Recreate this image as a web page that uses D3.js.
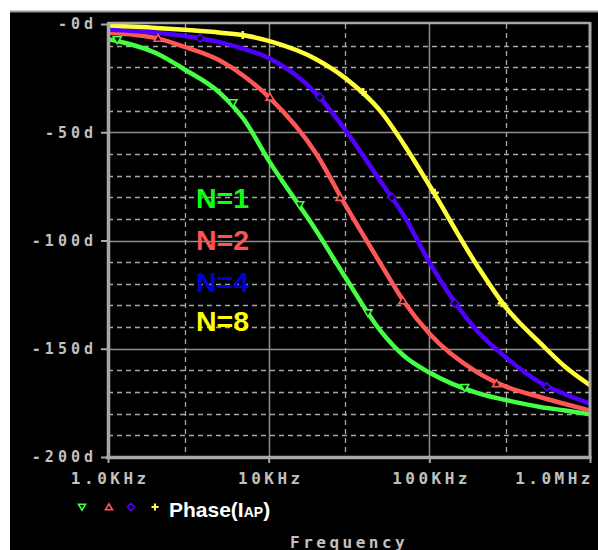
<!DOCTYPE html>
<html>
<head>
<meta charset="utf-8">
<script src="https://cdn.jsdelivr.net/npm/d3@7"></script>
<style>
  body { margin: 0; background: #fff; }
</style>
</head>
<body>
<script>
// values (phase in degrees)
var freqs   = [1e3, 2e3, 3e3, 5e3, 7e3, 1e4, 2e4, 3e4, 5e4, 7e4, 1e5, 2e5, 3e5, 5e5, 7e5, 1e6];
var phaseN1 = [-7, -13.5, -21, -32, -44, -63, -96, -117, -142, -153.5, -161, -170.5, -173.7, -177, -178.5, -180.3];
var phaseN2 = [-4, -6.5, -10.6, -17, -24, -33.7, -60.5, -83.6, -111, -128.5, -143, -161, -167.5, -172.5, -175.5, -178.5];
var phaseN4 = [-2.5, -4, -5.5, -8.5, -11.5, -15.7, -32.5, -49, -73, -89, -110, -142, -154, -166, -171, -175.3];
var phaseN8 = [-0.7, -1.8, -2.7, -4, -5.2, -7.8, -16.5, -25, -40.5, -56, -74.5, -112, -131, -148, -158.3, -166.8];

// marker positions on each trace
var markN1 = [[1.14e3, -7.4], [6.0e3, -36.5], [15.6e3, -83.6], [41.5e3, -133.5], [166e3, -168]];
var markN2 = [[2.05e3, -6.5], [10.2e3, -33.7], [27.8e3, -80], [68.4e3, -127.7], [262e3, -166]];
var markN4 = [[3.74e3, -6.5], [20.8e3, -33.7], [58.6e3, -80], [144e3, -129], [539e3, -167.6]];
var markN8 = [[6.9e3, -5.1], [38.6e3, -31.4], [108e3, -78], [282e3, -129]];

var seriesNames = ["N=1", "N=2", "N=4", "N=8"];
var yTickValues = [0, -50, -100, -150, -200];
var yTickLabels = ["-0d", "-50d", "-100d", "-150d", "-200d"];
var xTickValues = [1e3, 1e4, 1e5, 1e6];
var xTickLabels = ["1.0KHz", "10KHz", "100KHz", "1.0MHz"];

var W = 598, H = 550;
var pLeft = 108, pRight = 590, pTop = 24, pBottom = 457;
var lineColors  = ["#44ff44", "#ff5656", "#5000ff", "#ffff3c"];
var labelColors = ["#11ff11", "#ff5252", "#0000d8", "#ffff00"];
var symbols = ["down", "up", "diamond", "plus"];
var gray = "#c0c0c0";

var svg = d3.select("body").append("svg")
    .attr("width", W)
    .attr("height", H);

svg.append("rect")
    .attr("x", 10).attr("y", 11)
    .attr("width", W - 10).attr("height", H - 11)
    .attr("fill", "#000");
svg.append("line")
    .attr("x1", 10).attr("x2", W).attr("y1", 11.5).attr("y2", 11.5)
    .attr("stroke", "#9a9a9a").attr("stroke-width", 2);

var x = d3.scaleLog().domain([1e3, 1e6]).range([pLeft, pRight]);
var y = d3.scaleLinear().domain([0, -200]).range([pTop, pBottom]);

// grid
var g = svg.append("g");
d3.range(-10, -200, -10).forEach((v)=>{
    var solid = v % 50 === 0;
    g.append("line")
        .attr("x1", pLeft).attr("x2", pRight)
        .attr("y1", Math.round(y(v)) + 0.5).attr("y2", Math.round(y(v)) + 0.5)
        .attr("stroke", solid ? "#8e8e8e" : "#a8a8a8")
        .attr("stroke-width", solid ? 1.5 : 1.3)
        .attr("stroke-dasharray", solid ? null : "5,4");
});
[3e3, 1e4, 3e4, 1e5, 3e5].forEach((f)=>{
    var solid = (f === 1e4 || f === 1e5);
    g.append("line")
        .attr("x1", Math.round(x(f)) + 0.5).attr("x2", Math.round(x(f)) + 0.5)
        .attr("y1", pTop).attr("y2", pBottom)
        .attr("stroke", solid ? "#8e8e8e" : "#a8a8a8")
        .attr("stroke-width", solid ? 1.5 : 1.3)
        .attr("stroke-dasharray", solid ? null : "5,4");
});

// axes
var leftAxis = d3.axisLeft(y)
    .tickValues(yTickValues)
    .tickFormat((d, i) => yTickLabels[i])
    .tickSize(7)
    .tickPadding(8);
var ya = svg.append("g")
    .attr("transform", "translate(" + pLeft + ",0)")
    .call(leftAxis);

var bottomAxis = d3.axisBottom(x)
    .tickValues(xTickValues)
    .tickFormat((d, i) => xTickLabels[i])
    .tickSize(6)
    .tickPadding(10);
var xa = svg.append("g")
    .attr("transform", "translate(0," + pBottom + ")")
    .call(bottomAxis);

[ya, xa].forEach((a)=>{
    a.select(".domain").remove();
    a.selectAll(".tick line").attr("stroke", "#a8a8a8").attr("stroke-width", 2);
    a.selectAll(".tick text")
        .attr("fill", gray)
        .style("font-family", "'DejaVu Sans Mono', monospace")
        .style("font-weight", "bold");
});
ya.selectAll(".tick text")
    .style("font-size", "15px")
    .style("letter-spacing", "4px")
    .attr("dx", "4px");
xa.selectAll(".tick text")
    .style("font-size", "16px")
    .style("letter-spacing", "3.5px")
    .attr("dx", "1.75px");
xa.selectAll(".tick text")
    .filter((d) => d === 1e6)
    .attr("text-anchor", "end")
    .attr("dx", "3.5px");

// traces
svg.append("clipPath").attr("id", "plotclip")
    .append("rect")
    .attr("x", pLeft).attr("y", pTop - 2)
    .attr("width", pRight - pLeft).attr("height", pBottom - pTop + 2);

var line = d3.line()
    .x((d) => x(d[0]))
    .y((d) => y(d[1]))
    .curve(d3.curveMonotoneX);

var allPhases = [phaseN1, phaseN2, phaseN4, phaseN8];
var allMarks = [markN1, markN2, markN4, markN8];
var traces = svg.append("g").attr("clip-path", "url(#plotclip)");

allPhases.forEach((ph, i)=>{
    var pts = freqs.map((f, j) => [f, ph[j]]);
    traces.append("path")
        .attr("d", line(pts))
        .attr("fill", "none")
        .attr("stroke", lineColors[i])
        .attr("stroke-width", 4.5)
        .attr("stroke-linejoin", "round");
});

function markerPath(type, s) {
    if (type === "down") return "M" + (-s) + "," + (-s * 0.8) + "L" + s + "," + (-s * 0.8) + "L0," + (s * 0.9) + "Z";
    if (type === "up") return "M" + (-s) + "," + (s * 0.8) + "L" + s + "," + (s * 0.8) + "L0," + (-s * 0.9) + "Z";
    if (type === "diamond") return "M0," + (-s) + "L" + s + ",0L0," + s + "L" + (-s) + ",0Z";
    return "M" + (-s) + ",0L" + s + ",0M0," + (-s) + "L0," + s;
}

allMarks.forEach((m, i)=>{
    traces.selectAll(".mk" + i)
        .data(m)
        .enter()
        .append("path")
        .attr("class", "mk" + i)
        .attr("transform", (d) => "translate(" + x(d[0]) + "," + y(d[1]) + ")")
        .attr("d", markerPath(symbols[i], 4))
        .attr("fill", symbols[i] === "plus" ? "none" : "#000")
        .attr("stroke", lineColors[i])
        .attr("stroke-width", symbols[i] === "plus" ? 2.5 : 1.6);
});

// plot frame
svg.append("line").attr("x1", pLeft).attr("x2", pRight).attr("y1", pTop - 1).attr("y2", pTop - 1)
    .attr("stroke", "#a8a8a8").attr("stroke-width", 2.5);
svg.append("line").attr("x1", pRight).attr("x2", pRight).attr("y1", pTop - 2).attr("y2", pBottom)
    .attr("stroke", "#a8a8a8").attr("stroke-width", 3);
svg.append("line").attr("x1", pLeft - 2).attr("x2", pRight + 1.5).attr("y1", pBottom + 0.5).attr("y2", pBottom + 0.5)
    .attr("stroke", "#a8a8a8").attr("stroke-width", 3.5);
svg.append("line").attr("x1", pLeft + 0.5).attr("x2", pLeft + 0.5).attr("y1", pTop - 2).attr("y2", pBottom + 2)
    .attr("stroke", "#a8a8a8").attr("stroke-width", 3.5);

// series labels inside the plot
var nBase = [208, 250, 292, 331];
seriesNames.forEach((n, i)=>{
    svg.append("text")
        .attr("x", 196)
        .attr("y", nBase[i])
        .attr("fill", labelColors[i])
        .style("font-family", "'Liberation Sans', Arial, sans-serif")
        .style("font-weight", "bold")
        .style("font-size", "28.5px")
        .text(n);
});

// legend
var legX = [82, 109, 131, 155];
legX.forEach((lx, i)=>{
    svg.append("path")
        .attr("transform", "translate(" + lx + ",507)")
        .attr("d", markerPath(symbols[i], 3.5))
        .attr("fill", "none")
        .attr("stroke", lineColors[i])
        .attr("stroke-width", symbols[i] === "plus" ? 2 : 1.6);
});
var leg = svg.append("text")
    .attr("x", 169)
    .attr("y", 517)
    .attr("fill", "#fff")
    .style("font-family", "'Liberation Sans', Arial, sans-serif")
    .style("font-weight", "bold")
    .style("font-size", "21px");
leg.append("tspan").text("Phase(I");
leg.append("tspan").style("font-size", "14px").text("AP");
leg.append("tspan").text(")");

svg.append("text")
    .attr("x", 290)
    .attr("y", 548)
    .attr("fill", gray)
    .style("font-family", "'DejaVu Sans Mono', monospace")
    .style("font-weight", "bold")
    .style("font-size", "16px")
    .style("letter-spacing", "3.5px")
    .text("Frequency");
</script>
</body>
</html>
